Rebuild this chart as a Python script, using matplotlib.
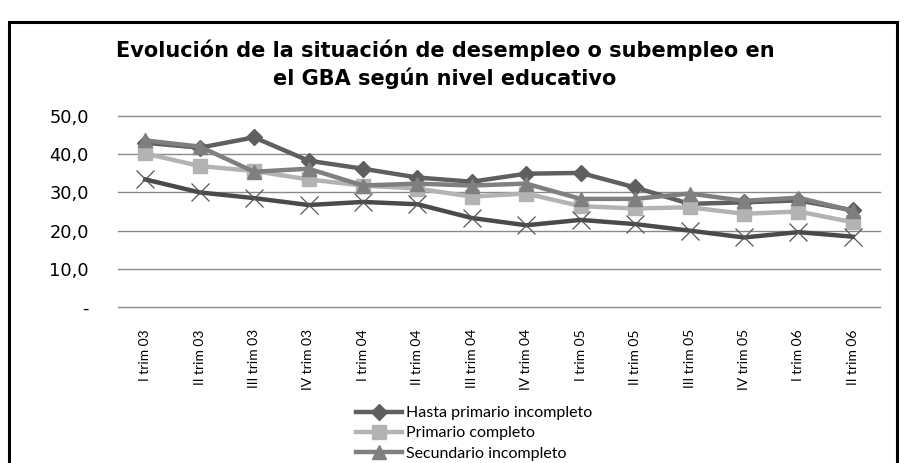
import matplotlib
matplotlib.use("Agg")
import matplotlib.pyplot as plt
from matplotlib.patches import Rectangle
from matplotlib.ticker import FuncFormatter

# trimestres (eje de categorías)
trimestres = ["I trim 03", "II trim 03", "III trim 03", "IV trim 03",
              "I trim 04", "II trim 04", "III trim 04", "IV trim 04",
              "I trim 05", "II trim 05", "III trim 05", "IV trim 05",
              "I trim 06", "II trim 06"]

# valores (%)
hasta_prim_inc = [43.0, 41.7, 44.4, 38.3, 36.2, 33.9, 32.8, 34.9, 35.1, 31.3, 27.0, 27.4, 27.9, 25.3]
prim_comp = [40.2, 36.9, 35.6, 33.4, 31.8, 31.0, 28.9, 29.7, 26.4, 25.8, 26.1, 24.4, 25.0, 22.2]
sec_inc = [43.6, 42.0, 35.4, 36.2, 31.8, 32.3, 31.8, 32.3, 28.3, 28.3, 29.7, 27.8, 28.6, 25.2]
sec_comp = [33.4, 30.0, 28.5, 26.7, 27.5, 26.9, 23.3, 21.4, 22.8, 21.7, 20.0, 18.2, 19.6, 18.4]

nombres = ["Hasta primario incompleto", "Primario completo",
           "Secundario incompleto", "Secundario completo"]

plt.rcParams["font.family"] = ["Lato", "DejaVu Sans"]

fig = plt.figure(figsize=(9.05, 4.63), dpi=100)
fig.patch.set_facecolor("white")

# marco del área del gráfico (el borde inferior queda fuera de la imagen)
fig.patches.append(Rectangle((9 / 905, -0.05), 888 / 905, 1 - 22 / 463 + 0.05,
                             transform=fig.transFigure, fill=False,
                             edgecolor="black", linewidth=2.2))

ax = fig.add_axes([118 / 905, 1 - 307 / 463, 762 / 905, 191 / 463])
x = list(range(len(trimestres)))

l1, = ax.plot(x, hasta_prim_inc, color="#5f5f5f", lw=3.2, marker="D", ms=8,
              label=nombres[0], zorder=3)
l2, = ax.plot(x, prim_comp, color="#b3b3b3", lw=3.2, marker="s", ms=10,
              label=nombres[1], zorder=3)
l3, = ax.plot(x, sec_inc, color="#7f7f7f", lw=3.2, marker="^", ms=10,
              label=nombres[2], zorder=3)
ax.plot(x, sec_comp, color="#4a4a4a", lw=3.2, marker="x", ms=13, mew=0.9,
        mec="#555555", label=nombres[3], zorder=3)

ax.set_xlim(-0.5, len(trimestres) - 0.5)
ax.set_ylim(0, 50)
ax.set_yticks([0, 10, 20, 30, 40, 50])
ax.yaxis.set_major_formatter(FuncFormatter(
    lambda v, p: "-" if v == 0 else f"{v:.1f}".replace(".", ",")))
ax.grid(axis="y", color="#8a8a8a", lw=1)
for gl in ax.get_ygridlines():
    gl.set_clip_on(False)
ax.set_axisbelow(True)
for s in ax.spines.values():
    s.set_visible(False)
ax.tick_params(axis="both", length=0)
ax.tick_params(axis="y", pad=21)
for lbl in ax.get_yticklabels():
    lbl.set_family(["DejaVu Sans"])
    lbl.set_fontsize(12.8)
ax.set_xticks(x)
ax.set_xticklabels(trimestres, rotation=90, fontsize=10, va="top")
ax.tick_params(axis="x", pad=16)

titulo_kw = dict(ha="center", va="center", fontsize=15, fontweight="bold",
                 family=["DejaVu Sans"])
fig.text(445 / 905, 1 - 50 / 463,
         "Evolución de la situación de desempleo o subempleo en", **titulo_kw)
fig.text(445 / 905, 1 - 78 / 463, "el GBA según nivel educativo", **titulo_kw)

# la cuarta entrada de la leyenda queda fuera del recorte en el original
leg = fig.legend(handles=[l1, l2, l3], loc="upper left",
                 bbox_to_anchor=(348 / 905, 1 - 398 / 463),
                 frameon=False, fontsize=11.5, handlelength=2.9,
                 handletextpad=0.2, labelspacing=0.38, borderpad=0)

fig.savefig("out.png", dpi=100)
